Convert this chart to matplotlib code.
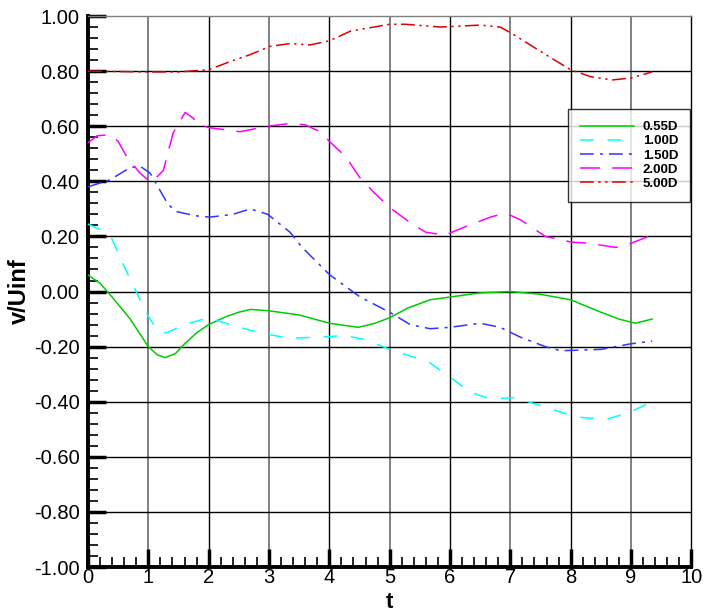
import matplotlib
matplotlib.use("Agg")
import matplotlib.pyplot as plt
from matplotlib.ticker import MultipleLocator, FormatStrFormatter

plt.rcParams['font.family'] = ['Liberation Sans', 'DejaVu Sans']

# Series: v/Uinf over time at several probe distances
t_055 = [0, 0.2, 0.4, 0.7, 1.0, 1.15, 1.28, 1.45, 1.6, 1.8, 2.0, 2.3, 2.5, 2.7, 3.0, 3.5, 4.0,
         4.48, 4.76, 5.0, 5.3, 5.67, 6.0, 6.5, 7.0, 7.5, 8.0, 8.5, 8.8, 9.07, 9.35]
v_055 = [0.06, 0.03, -0.02, -0.10, -0.20, -0.23, -0.24, -0.225, -0.19, -0.15, -0.12, -0.09, -0.075,
         -0.065, -0.07, -0.085, -0.115, -0.13, -0.115, -0.095, -0.06, -0.03, -0.02, -0.005, 0.0,
         -0.01, -0.03, -0.075, -0.10, -0.115, -0.10]

t_100 = [0, 0.2, 0.4, 0.58, 0.84, 1.0, 1.15, 1.3, 1.6, 2.0, 2.35, 2.85, 3.35, 3.85, 4.27, 4.6,
         5.0, 5.64, 6.0, 6.33, 6.67, 7.08, 7.58, 8.08, 8.57, 8.96, 9.35]
v_100 = [0.245, 0.225, 0.19, 0.10, -0.02, -0.09, -0.14, -0.15, -0.12, -0.095, -0.12, -0.15, -0.17,
         -0.165, -0.16, -0.175, -0.21, -0.255, -0.31, -0.365, -0.39, -0.385, -0.42, -0.455, -0.465,
         -0.44, -0.40]

t_150 = [0, 0.36, 0.7, 0.86, 1.03, 1.16, 1.33, 1.47, 1.78, 2.02, 2.4, 2.69, 2.98, 3.35, 3.55,
         4.01, 4.51, 5.0, 5.34, 5.67, 6.0, 6.5, 6.83, 7.16, 7.58, 7.83, 8.5, 8.99, 9.35]
v_150 = [0.38, 0.405, 0.45, 0.455, 0.43, 0.38, 0.315, 0.29, 0.275, 0.27, 0.28, 0.30, 0.28, 0.215,
         0.16, 0.06, -0.02, -0.075, -0.12, -0.135, -0.13, -0.115, -0.13, -0.165, -0.20, -0.215,
         -0.21, -0.19, -0.18]

t_200 = [0, 0.15, 0.36, 0.5, 0.64, 0.86, 1.05, 1.25, 1.41, 1.61, 1.74, 1.86, 2.0, 2.52, 2.98,
         3.35, 3.6, 3.85, 4.0, 4.27, 4.5, 4.76, 5.0, 5.34, 5.6, 5.92, 6.25, 6.67, 6.92, 7.17,
         7.58, 8.0, 8.3, 8.75, 9.0, 9.35]
v_200 = [0.54, 0.565, 0.57, 0.545, 0.49, 0.43, 0.395, 0.44, 0.575, 0.65, 0.63, 0.605, 0.595,
         0.58, 0.60, 0.61, 0.605, 0.58, 0.545, 0.49, 0.415, 0.355, 0.305, 0.25, 0.215, 0.205,
         0.235, 0.27, 0.285, 0.26, 0.20, 0.18, 0.175, 0.16, 0.175, 0.205]

t_500 = [0, 1.0, 1.5, 2.0, 2.36, 2.69, 3.02, 3.35, 3.68, 4.0, 4.35, 5.0, 5.26, 5.84, 6.5, 6.83,
         7.0, 7.33, 7.66, 8.0, 8.33, 8.69, 9.0, 9.35]
v_500 = [0.80, 0.797, 0.797, 0.805, 0.835, 0.86, 0.89, 0.90, 0.895, 0.91, 0.945, 0.97, 0.97,
         0.96, 0.967, 0.96, 0.94, 0.895, 0.85, 0.805, 0.78, 0.768, 0.775, 0.797]

labels = ["0.55D", "1.00D", "1.50D", "2.00D", "5.00D"]

fig = plt.figure(figsize=(7.04, 6.16), dpi=100)
ax = fig.add_axes([0.125, 0.0795, 0.857, 0.8945])

# grid: odd t lines gray, even t lines black, horizontals black
for x in range(1, 10):
    ax.axvline(x, color='#808080' if x % 2 else 'black', lw=1.4 if x % 2 else 1.0, zorder=1)
for y in [-0.8, -0.6, -0.4, -0.2, 0.0, 0.2, 0.4, 0.6, 0.8]:
    ax.axhline(y, color='black', lw=1.0, zorder=1)

lw = 1.1
ax.plot(t_055, v_055, color='#00cc00', lw=lw, label=labels[0], zorder=3)
ax.plot(t_100, v_100, color='#00ffff', lw=lw, dashes=(9, 9), label=labels[1], zorder=3)
ax.plot(t_150, v_150, color='#3333ff', lw=lw, dashes=(9, 4, 2, 4), label=labels[2], zorder=3)
ax.plot(t_200, v_200, color='#ff00ff', lw=lw, dashes=(13, 8), label=labels[3], zorder=3)
ax.plot(t_500, v_500, color='#dd0000', lw=lw, dashes=(9, 3, 1.5, 3, 1.5, 3), label=labels[4], zorder=3)

ax.set_xlim(0, 10)
ax.set_ylim(-1.0, 1.0)
ax.xaxis.set_major_locator(MultipleLocator(1))
ax.xaxis.set_minor_locator(MultipleLocator(0.2))
ax.yaxis.set_major_locator(MultipleLocator(0.2))
ax.yaxis.set_minor_locator(MultipleLocator(0.04))
ax.yaxis.set_major_formatter(FormatStrFormatter('%.2f'))
ax.xaxis.set_major_formatter(FormatStrFormatter('%d'))

ax.tick_params(which='major', direction='in', length=13, width=2.5, labelsize=14.5)
ax.tick_params(which='minor', direction='in', length=7, width=1.2)
ax.tick_params(axis='y', which='major', pad=6)
ax.tick_params(axis='x', which='major', pad=1)

ax.spines['left'].set_linewidth(2.8)
ax.spines['bottom'].set_linewidth(2.8)
ax.spines['top'].set_linewidth(1.0)
ax.spines['top'].set_color('#808080')
ax.spines['right'].set_linewidth(1.0)

ax.set_xlabel('t', fontsize=16, fontweight='bold', labelpad=3)
ax.set_ylabel('v/Uinf', fontsize=17, fontweight='bold', labelpad=2)

leg = ax.legend(loc='upper right', bbox_to_anchor=(0.998, 0.831), prop={'weight': 'bold', 'size': 9.5},
                handlelength=4.1, frameon=True, fancybox=False, borderpad=0.9, labelspacing=0.15,
                handletextpad=0.7, borderaxespad=0)
leg.get_frame().set_edgecolor('black')
leg.get_frame().set_linewidth(1.0)
leg.set_zorder(5)

fig.savefig('out.png', dpi=100)
